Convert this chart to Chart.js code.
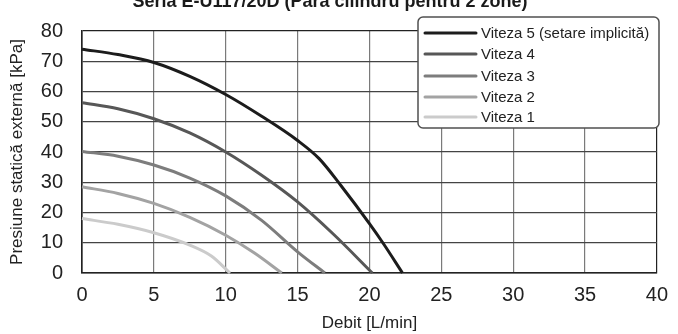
<!DOCTYPE html>
<html>
<head>
<meta charset="utf-8">
<script src="https://cdn.jsdelivr.net/npm/chart.js@4/dist/chart.umd.min.js"></script>
<style>
  html, body { margin: 0; padding: 0; background: #fff; }
  #wrap { width: 678px; height: 334px; position: relative; }
</style>
</head>
<body>
<div id="wrap"><canvas id="c" width="678" height="334"></canvas></div>
<script>
// Pump curves: external static pressure vs. flow for each fan speed
const chartTitle = 'Seria E-U117/20D (Para cilindru pentru 2 zone)';
const xTitle = 'Debit [L/min]';
const yTitle = 'Presiune statică externă [kPa]';
const seriesNames = ['Viteza 5 (setare implicită)', 'Viteza 4', 'Viteza 3', 'Viteza 2', 'Viteza 1'];
const seriesColors = ['#1c1c1c', '#575757', '#7d7d7d', '#a3a3a3', '#cbcbcb'];

const v5Flow = [0, 2.5, 5, 7.5, 10, 12.5, 15, 16.5, 18, 20, 21, 22.3];
const v5Pressure = [74, 72.2, 69.6, 65, 59, 51.8, 43.8, 37.8, 29, 16.3, 9.5, 0];
const v4Flow = [0, 2.5, 5, 7.5, 10, 12.5, 15, 17.5, 20.2];
const v4Pressure = [56.3, 54.3, 51, 46.3, 40, 32.3, 23.5, 12.8, 0];
const v3Flow = [0, 2.5, 5, 7.5, 10, 12.5, 15, 16.9];
const v3Pressure = [40.2, 38.6, 35.7, 31.4, 25.5, 17.4, 7, 0];
const v2Flow = [0, 2.5, 5, 7.5, 10, 12, 13.9];
const v2Pressure = [28.5, 26.3, 23, 18.4, 12.5, 6.6, 0];
const v1Flow = [0, 2.5, 5, 7.5, 9, 10.3];
const v1Pressure = [18, 16.1, 13.3, 9.2, 5.6, 0];

const xTicks = [0, 5, 10, 15, 20, 25, 30, 35, 40];
const yTicks = [0, 10, 20, 30, 40, 50, 60, 70, 80];

const flows = [v5Flow, v4Flow, v3Flow, v2Flow, v1Flow];
const pressures = [v5Pressure, v4Pressure, v3Pressure, v2Pressure, v1Pressure];

const FONT = '"Liberation Sans", Arial, sans-serif';

const datasets = seriesNames.map((name, i) => ({
  label: name,
  data: flows[i].map((x, j) => ({ x: x, y: pressures[i][j] })),
  borderColor: seriesColors[i],
  backgroundColor: seriesColors[i],
  borderWidth: 3,
  pointRadius: 0,
  fill: false,
  cubicInterpolationMode: 'monotone',
  clip: false
}));

// Title above the frame and the boxed legend in the upper-right corner
const decorations = {
  id: 'decorations',
  afterDraw(chart) {
    const ctx = chart.ctx;
    ctx.save();
    ctx.fillStyle = '#1a1a1a';
    ctx.font = 'bold 18px ' + FONT;
    ctx.textAlign = 'center';
    ctx.textBaseline = 'alphabetic';
    ctx.fillText(chartTitle, 330, 7);

    const bx = 418, by = 17, bw = 241, bh = 111, r = 5;
    ctx.beginPath();
    ctx.moveTo(bx + r, by);
    ctx.arcTo(bx + bw, by, bx + bw, by + bh, r);
    ctx.arcTo(bx + bw, by + bh, bx, by + bh, r);
    ctx.arcTo(bx, by + bh, bx, by, r);
    ctx.arcTo(bx, by, bx + bw, by, r);
    ctx.closePath();
    ctx.fillStyle = '#ffffff';
    ctx.fill();
    ctx.lineWidth = 1.5;
    ctx.strokeStyle = '#505050';
    ctx.stroke();

    const rows = [33, 54, 76, 97, 117];
    ctx.font = '15px ' + FONT;
    ctx.textAlign = 'left';
    ctx.textBaseline = 'middle';
    chart.data.datasets.forEach((ds, i) => {
      const y = rows[i];
      ctx.beginPath();
      ctx.moveTo(425, y);
      ctx.lineTo(476, y);
      ctx.lineWidth = 3;
      ctx.lineCap = 'round';
      ctx.strokeStyle = ds.borderColor;
      ctx.stroke();
      ctx.fillStyle = '#222';
      ctx.fillText(ds.label, 481, y + 0.5);
    });
    ctx.restore();
  }
};

new Chart(document.getElementById('c'), {
  type: 'line',
  data: { datasets: datasets },
  plugins: [decorations],
  options: {
    responsive: false,
    animation: false,
    devicePixelRatio: 1,
    layout: { padding: { left: 0, right: 14, top: 13, bottom: 0 } },
    plugins: {
      legend: { display: false },
      title: { display: false },
      tooltip: { enabled: false }
    },
    scales: {
      x: {
        type: 'linear',
        min: 0,
        max: 40,
        afterBuildTicks: (s) => { s.ticks = xTicks.map(v => ({ value: v })); },
        afterFit: (s) => { s.height = 61; },
        grid: {
          drawTicks: false,
          lineWidth: 1.2,
          color: (c) => (c.tick && (c.tick.value === 0 || c.tick.value === 40)) ? '#222' : '#7a7a7a'
        },
        border: { display: true, color: '#222', width: 1.6 },
        ticks: { color: '#222', padding: 10, font: { family: FONT, size: 20 } },
        title: { display: true, text: xTitle, color: '#222', font: { family: FONT, size: 17 }, padding: { top: 0, bottom: 0 } }
      },
      y: {
        type: 'linear',
        min: 0,
        max: 80,
        afterBuildTicks: (s) => { s.ticks = yTicks.map(v => ({ value: v })); },
        afterFit: (s) => { s.width = 82; },
        grid: {
          drawTicks: false,
          lineWidth: 1.2,
          color: (c) => (c.tick && (c.tick.value === 0 || c.tick.value === 80)) ? '#222' : '#444'
        },
        border: { display: true, color: '#222', width: 1.6 },
        ticks: { color: '#222', padding: 19, font: { family: FONT, size: 20 } },
        title: { display: true, text: yTitle, color: '#222', font: { family: FONT, size: 17 }, padding: { top: 7, bottom: 0 } }
      }
    }
  }
});
</script>
</body>
</html>
